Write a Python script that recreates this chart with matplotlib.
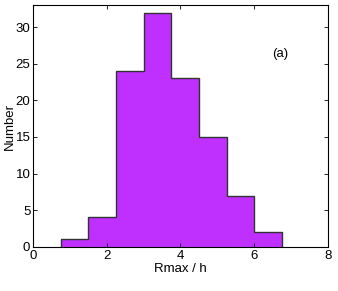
import numpy as np
import matplotlib
matplotlib.use('Agg')
import matplotlib.pyplot as plt

plt.rcParams['font.family'] = ['Liberation Sans', 'DejaVu Sans']

# histogram of Rmax / h
bin_edges = [0.75, 1.5, 2.25, 3.0, 3.75, 4.5, 5.25, 6.0, 6.75]
counts = [1, 4, 24, 32, 23, 15, 7, 2]

fig = plt.figure(figsize=(3.38, 2.91), dpi=100)
ax = fig.add_axes([0.098, 0.152, 0.872, 0.83])

# filled outline, no inner bar walls
ax.stairs(counts, bin_edges, fill=True, color='#BF30FF')
ax.stairs(counts, bin_edges, baseline=0, color='#333333', linewidth=1.0)

ax.set_xlim(0, 8)
ax.set_ylim(0, 33)
ax.set_xticks([0, 2, 4, 6, 8])
ax.set_yticks([0, 5, 10, 15, 20, 25, 30])
ax.tick_params(direction='in', top=True, right=True, labelsize=9.5,
               length=3, width=0.6, pad=2)
for s in ax.spines.values():
    s.set_linewidth(0.8)

ax.set_xlabel('Rmax / h', fontsize=9.5, labelpad=1)
ax.set_ylabel('Number', fontsize=9.5, labelpad=0)
ax.text(6.7, 26.3, '(a)', fontsize=9.5, ha='center', va='center')

fig.savefig('out.png', dpi=100)
